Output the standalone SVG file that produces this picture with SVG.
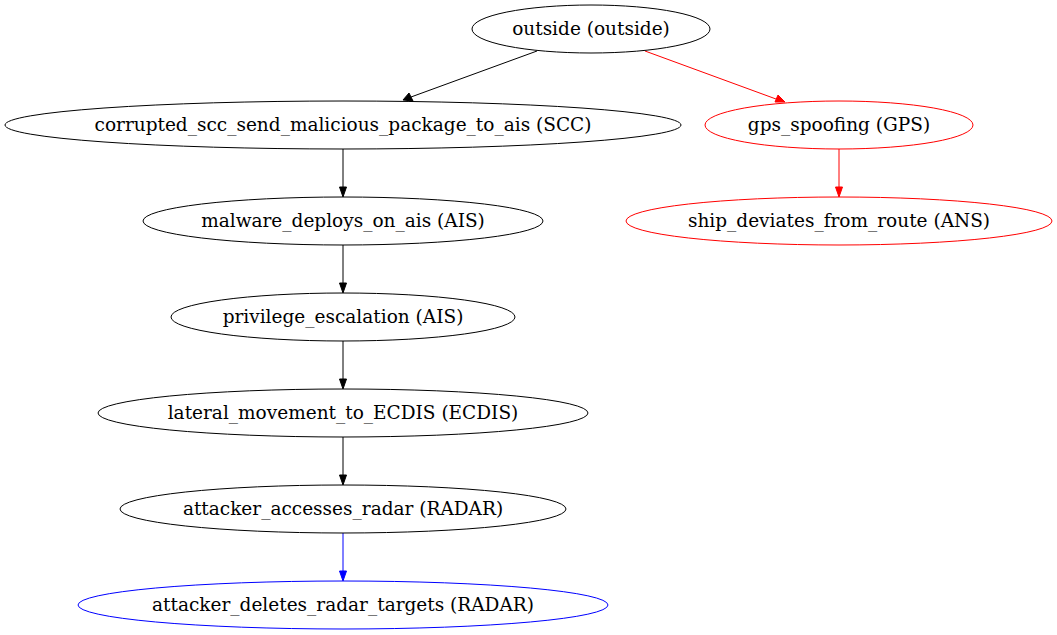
<svg xmlns="http://www.w3.org/2000/svg" width="1057" height="635" viewBox="0 0 1057 635">
<style>
.n ellipse{fill:none;stroke:#000;stroke-width:1}
.n text{font-family:'DejaVu Serif',serif;font-size:18.5px;text-anchor:middle;fill:#000}
.red ellipse{stroke:#f00}
.blue ellipse{stroke:#00f}
.e line{stroke-width:1}
</style>
<rect width="1057" height="635" fill="#fff"/>
<g id="connectors">
<g class="e"><line x1="537" y1="51" x2="411" y2="97" stroke="#000"/><polygon points="403,100 409,93 413,101" fill="#000" stroke="#000"/></g>
<g class="e"><line x1="645" y1="51" x2="776" y2="99" stroke="#f00"/><polygon points="785,102 775,102 778,95" fill="#f00" stroke="#f00"/></g>
<g class="e"><line x1="343" y1="149" x2="343" y2="187" stroke="#000"/><polygon points="339.5,187 346.5,187 343,197" fill="#000" stroke="#000"/></g>
<g class="e"><line x1="839" y1="149" x2="839" y2="187" stroke="#f00"/><polygon points="835.5,187 842.5,187 839,197" fill="#f00" stroke="#f00"/></g>
<g class="e"><line x1="343" y1="245" x2="343" y2="283" stroke="#000"/><polygon points="339.5,283 346.5,283 343,293" fill="#000" stroke="#000"/></g>
<g class="e"><line x1="343" y1="341" x2="343" y2="379" stroke="#000"/><polygon points="339.5,379 346.5,379 343,389" fill="#000" stroke="#000"/></g>
<g class="e"><line x1="343" y1="437" x2="343" y2="475" stroke="#000"/><polygon points="339.5,475 346.5,475 343,485" fill="#000" stroke="#000"/></g>
<g class="e"><line x1="343" y1="533" x2="343" y2="571" stroke="#00f"/><polygon points="339.5,571 346.5,571 343,581" fill="#00f" stroke="#00f"/></g>
</g>
<g id="outside" class="n"><ellipse cx="591" cy="29" rx="119" ry="24"/><text x="591" y="35">outside (outside)</text></g>
<g id="corrupted_scc_send_malicious_package_to_ais" class="n"><ellipse cx="343" cy="125" rx="338" ry="24"/><text x="343" y="131">corrupted_scc_send_malicious_package_to_ais (SCC)</text></g>
<g id="gps_spoofing" class="n red"><ellipse cx="839" cy="125" rx="134" ry="24"/><text x="839" y="131">gps_spoofing (GPS)</text></g>
<g id="malware_deploys_on_ais" class="n"><ellipse cx="343" cy="221" rx="200" ry="24"/><text x="343" y="227">malware_deploys_on_ais (AIS)</text></g>
<g id="ship_deviates_from_route" class="n red"><ellipse cx="839" cy="221" rx="213" ry="24"/><text x="839" y="227">ship_deviates_from_route (ANS)</text></g>
<g id="privilege_escalation" class="n"><ellipse cx="343" cy="317" rx="172" ry="24"/><text x="343" y="323">privilege_escalation (AIS)</text></g>
<g id="lateral_movement_to_ECDIS" class="n"><ellipse cx="343" cy="413" rx="245" ry="24"/><text x="343" y="419">lateral_movement_to_ECDIS (ECDIS)</text></g>
<g id="attacker_accesses_radar" class="n"><ellipse cx="343" cy="509" rx="223" ry="24"/><text x="343" y="515">attacker_accesses_radar (RADAR)</text></g>
<g id="attacker_deletes_radar_targets" class="n blue"><ellipse cx="343" cy="605" rx="265" ry="24"/><text x="343" y="611">attacker_deletes_radar_targets (RADAR)</text></g>
</svg>
